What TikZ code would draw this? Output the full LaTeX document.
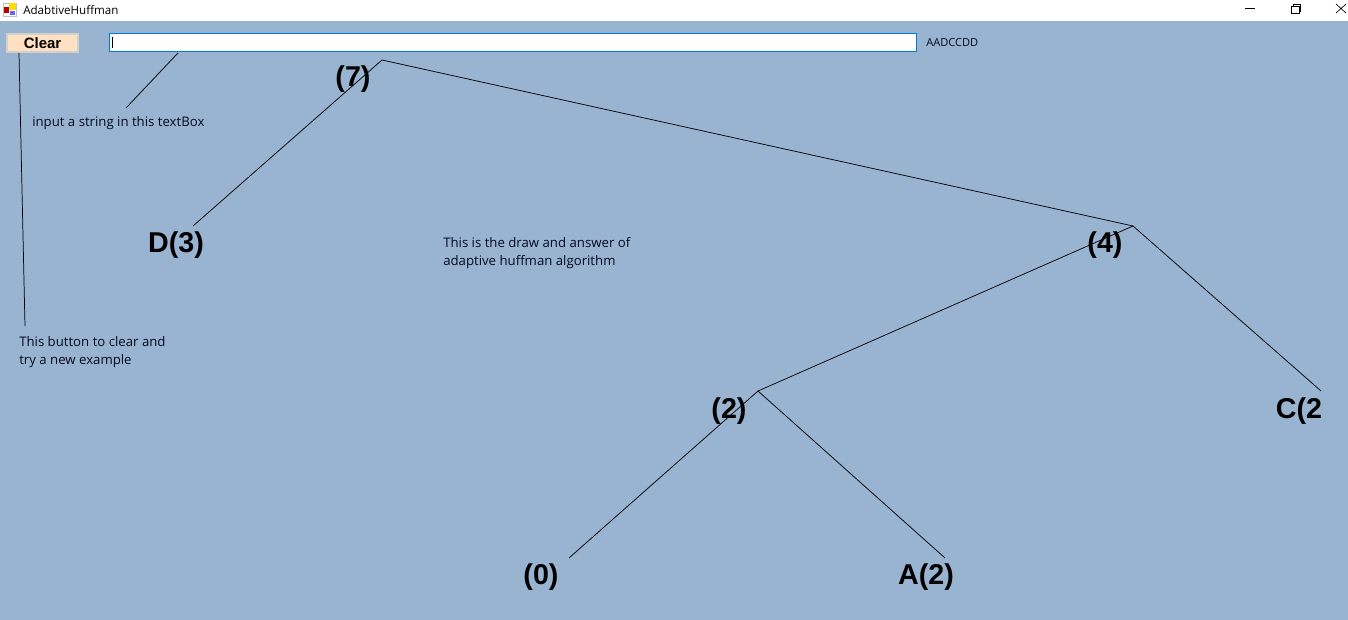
\documentclass[tikz,border=0pt]{standalone}
\usepackage{fontspec}
\setmainfont{Liberation Sans}
\newfontfamily\uifont{Open Sans}
\definecolor{formblue}{RGB}{153,180,209}
\definecolor{btnface}{RGB}{255,224,192}
\definecolor{btnedge}{RGB}{208,208,205}
\definecolor{boxblue}{RGB}{0,120,215}
\definecolor{inktext}{RGB}{5,10,30}
\tikzset{
  treelabel/.style={font=\bfseries\fontsize{21.5}{24}\selectfont,inner sep=0pt,text=black},
  notelabel/.style={font=\uifont\fontsize{9.9}{13.5}\selectfont,inner sep=0pt,anchor=north west,align=left,text=inktext},
  link/.style={black,line width=0.55pt},
}
\begin{document}
\begin{tikzpicture}[x=0.75pt,y=-0.75pt]
  \useasboundingbox (0,0) rectangle (1348,620);
  % Form background and title bar
  \fill[formblue] (0,0) rectangle (1348,620);
  \fill[white] (0,0) rectangle (1348,21);
  % App icon
  \fill[gray!50] (3,3) rectangle (17,17);
  \fill[white] (4,4) rectangle (16,16);
  \fill[red!70!black] (4,7) rectangle (9,13);
  \fill[yellow!80!orange] (9,3) rectangle (16,10);
  \fill[blue!60] (10,11) rectangle (15,15);
  \node[font=\uifont\fontsize{8.7}{11}\selectfont,inner sep=0pt,anchor=west,text=black] (title) at (23,10) {AdabtiveHuffman};
  % Window buttons
  \draw[black,line width=0.5pt] (1245,8) -- (1255,8);
  \draw[black,line width=0.5pt] (1291,6) rectangle (1299,13);
  \draw[black,line width=0.5pt] (1293,6) -- (1293,4) -- (1300,4) -- (1300,11) -- (1299,11);
  \draw[black,line width=0.5pt] (1336,4) -- (1346,13) (1346,4) -- (1336,13);
  % Clear button and textbox
  \node[draw=btnedge,line width=1.5pt,fill=btnface,minimum width=53.5pt,minimum height=14pt,inner sep=0pt,font=\bfseries\fontsize{11.2}{12}\selectfont] (clear) at (42.5,43) {Clear};
  \node[draw=boxblue,line width=0.75pt,fill=white,minimum width=605pt,minimum height=13.5pt,inner sep=0pt] (textbox) at (513,43) {};
  \draw[black,line width=0.8pt] (112.5,37) -- (112.5,48);
  \node[font=\uifont\fontsize{8.3}{10}\selectfont,inner sep=0pt,anchor=west,text=inktext] (answer) at (926,43) {AADCCDD};
  % Notes
  \node[notelabel] (noteinput) at (32,116) {input a string in this textBox};
  \node[notelabel] (noteclear) at (19,336) {This button to clear and\\try a new example};
  \node[notelabel] (notedraw) at (443,237) {This is the draw and answer of\\adaptive huffman algorithm};
  \coordinate (inputtop) at (178,53);
  \coordinate (inputend) at (126,108);
  \coordinate (cleartop) at (19,53);
  \coordinate (clearend) at (25,326);
  \draw[link] (inputtop) -- (inputend);
  \draw[link] (cleartop) -- (clearend);
  % Tree labels
  \foreach \name/\x/\y/\txt in {n7/353/79/(7),nd/176/245/D(3),n4/1105/245/(4),nc/1299/411/C(2,n2/729/411/(2),n0/541/577/(0),na/926/577/A(2)} {
    \node[treelabel] (\name) at (\x,\y) {\txt};
  }
  % Tree edges
  \coordinate (top7) at (382,60);
  \coordinate (top4) at (1133,226);
  \coordinate (top2) at (758,391);
  \coordinate (endd) at (193,226);
  \coordinate (endc) at (1321,391);
  \coordinate (end0) at (569,558);
  \coordinate (enda) at (945,558);
  \foreach \a/\b in {top7/endd,top7/top4,top4/top2,top4/endc,top2/end0,top2/enda} {
    \draw[link] (\a) -- (\b);
  }
\end{tikzpicture}
\end{document}
